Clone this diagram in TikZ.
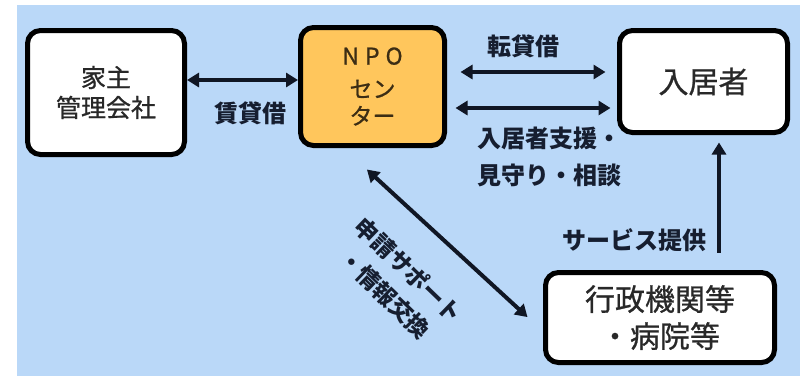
\documentclass[tikz,border=0pt]{standalone}
\usepackage{fontspec}
\newfontfamily\jp{Noto Sans CJK JP}
\newfontfamily\jpm{Noto Sans CJK JP}[FakeBold=0.8]
\usetikzlibrary{arrows.meta}
\definecolor{bgblue}{RGB}{186,216,248}
\definecolor{npoorange}{RGB}{255,198,92}
\definecolor{boxtext}{RGB}{40,40,40}
\definecolor{npotext}{RGB}{60,45,20}
\definecolor{labc}{RGB}{22,30,48}
\definecolor{arrowc}{RGB}{16,22,36}
\tikzset{
  box/.style={draw=black, line width=5pt, rounded corners=13pt, fill=white,
    inner sep=0pt, align=center, text=boxtext},
  dbl/.style={{Triangle[length=12pt,width=14pt]}-{Triangle[length=12pt,width=14pt]},
    line width=4pt, draw=arrowc},
  sgl/.style={-{Triangle[length=12pt,width=14pt]}, line width=4pt, draw=arrowc},
  lab/.style={font=\jp\bfseries\fontsize{24}{37}\selectfont, text=labc,
    inner sep=0pt, align=center}
}
\begin{document}
\begin{tikzpicture}[x=1pt,y=-1pt]
\useasboundingbox (0,0) rectangle (800,376);
\fill[bgblue] (17,5) rectangle (800,376);

\node[box, minimum width=157pt, minimum height=124pt,
  font=\jpm\fontsize{25}{30}\selectfont] (A) at (106,92.5) {家主\\管理会社};
\node[box, fill=npoorange, text=npotext, minimum width=144pt, minimum height=118pt,
  font=\jpm\fontsize{23}{27}\selectfont] (B) at (372.5,86.5)
  {N\hspace{6pt}P\hspace{6pt}O\\[6pt]セン\\ター};
\node[box, minimum width=168pt, minimum height=102pt,
  font=\jpm\fontsize{30}{36}\selectfont] (C) at (703.5,81.5) {入居者};
\node[box, minimum width=229pt, minimum height=90pt,
  font=\jpm\fontsize{30}{37}\selectfont] (D) at (660,317.5) {行政機関等\\・病院等};

\draw[dbl] ([yshift=12.5pt]A.east) -- ([yshift=6.5pt]B.west);
\draw[dbl, shorten <=13.5pt, shorten >=11.5pt] ([yshift=14.5pt]B.east) -- ([yshift=9.5pt]C.west);
\draw[dbl, shorten <=8.5pt, shorten >=6.5pt] ([yshift=-21.5pt]B.east) -- ([yshift=-26.5pt]C.west);
\draw[sgl, shorten <=17.5pt, shorten >=7.5pt] ([xshift=59pt]D.north) -- ([xshift=15.5pt]C.south);
\draw[dbl, shorten <=31.8pt, shorten >=21pt] ([xshift=-29pt]B.south) -- ([yshift=-13.8pt]D.west);

\node[lab] (l1) at (250,113) {賃貸借};
\node[lab] (l2) at (523,46) {転貸借};
\node[lab, align=left] (l3) at (549,157) {入居者支援・\\見守り・相談};
\node[lab] (l4) at (634,240) {サービス提供};
\node[lab, rotate=-44, font=\jp\bfseries\fontsize{23}{34}\selectfont] (l5) at (397,282) {申請サポート\\・情報交換};
\end{tikzpicture}
\end{document}
